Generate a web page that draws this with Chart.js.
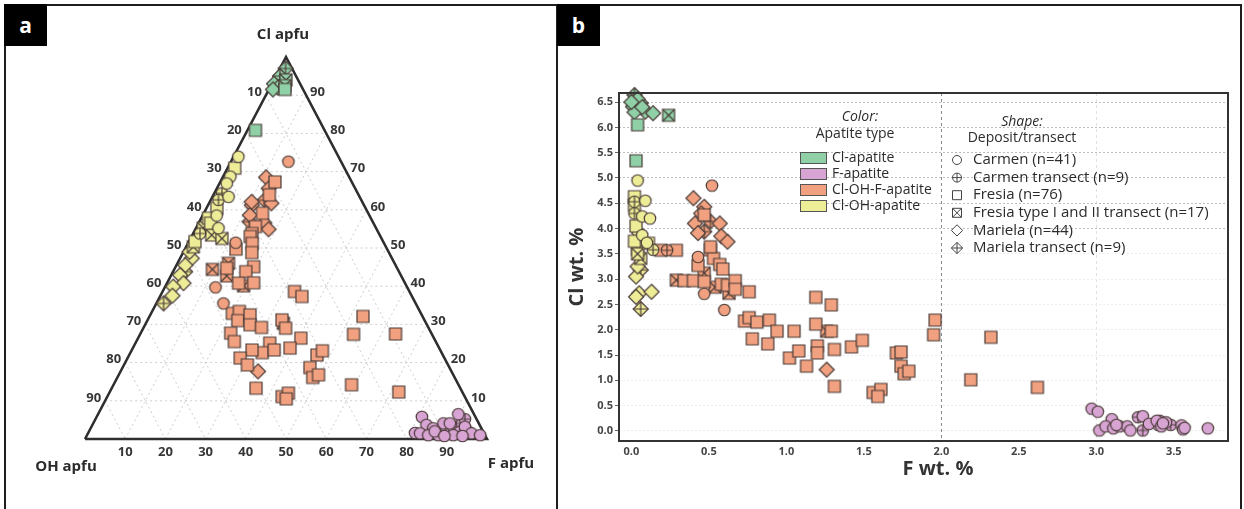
<!DOCTYPE html>
<html>
<head>
<meta charset="utf-8">
<script src="https://cdn.jsdelivr.net/npm/chart.js@4.4.1/dist/chart.umd.min.js"></script>
<style>
  html, body { margin: 0; padding: 0; background: #fff; }
  #wrap { position: relative; width: 1244px; height: 509px; overflow: hidden; font-family: 'Open Sans', sans-serif; }
  .frame { position: absolute; left: 4px; top: 4px; width: 1234px; height: 530px; border: 2px solid #1e1e1e; }
  .divider { position: absolute; left: 556px; top: 4px; width: 2px; height: 509px; background: #1e1e1e; }
  .tag { position: absolute; top: 4px; width: 43px; height: 42px; background: #000; color: #fff;
         font: bold 21px 'Open Sans', sans-serif; display: flex; align-items: center; justify-content: center; }
  canvas { position: absolute; top: 0; }
</style>
</head>
<body>
<div id="wrap">
  <div class="frame"></div>
  <div class="divider"></div>
  <div class="tag" style="left:4px">a</div>
  <div class="tag" style="left:557px">b</div>
  <canvas id="ternary" width="557" height="509" style="left:0"></canvas>
  <canvas id="scatter" width="687" height="509" style="left:557px"></canvas>
</div>
<script>
/* ---- categories / ticks ---- */
const apatiteTypes = ['Cl-apatite', 'F-apatite', 'Cl-OH-F-apatite', 'Cl-OH-apatite'];
const deposits = ['Carmen (n=41)', 'Carmen transect (n=9)', 'Fresia (n=76)',
                  'Fresia type I and II transect (n=17)', 'Mariela (n=44)', 'Mariela transect (n=9)'];
const ternaryTicks = [10, 20, 30, 40, 50, 60, 70, 80, 90];
const fTicks  = [0, 0.5, 1, 1.5, 2, 2.5, 3, 3.5];
const clTicks = [0, 0.5, 1, 1.5, 2, 2.5, 3, 3.5, 4, 4.5, 5, 5.5, 6, 6.5];

/* ---- panel b: [F wt.%, Cl wt.%] ---- */
const wtClApFresia     = [[0.04,6.05],[0.03,5.34]];
const wtClApFresiaTr   = [[0.24,6.24]];
const wtClApMariela    = [[0.01,6.41],[0.04,6.56],[0.09,6.31],[0.14,6.28],[0.02,6.30],[0.00,6.50],[0.07,6.40]];
const wtClApMarielaTr  = [[0.02,6.64],[0.06,6.48]];

const wtFApCarmen      = [[2.97,0.44],[3.01,0.38],[3.10,0.23],[3.02,0.01],[3.06,0.09],[3.11,0.05],[3.15,0.09],[3.20,0.09],
                          [3.22,0.01],[3.30,0.29],[3.34,0.14],[3.39,0.20],[3.42,0.09],[3.45,0.17],[3.55,0.11],[3.56,0.03],
                          [3.57,0.06],[3.72,0.05],[3.13,0.12],[3.43,0.15]];
const wtFApCarmenTr    = [[3.27,0.27],[3.30,0.01],[3.40,0.12],[3.48,0.12],[3.41,0.20]];

const wtClOHFCarmen    = [[0.52,4.85],[0.43,3.44],[0.47,2.71],[0.60,2.39]];
const wtClOHFCarmenTr  = [[0.23,3.57]];
const wtClOHFFresia    = [[0.19,3.57],[0.29,3.57],[0.51,3.58],[0.53,3.41],[0.57,3.29],[0.59,3.20],[0.43,3.27],[0.34,2.97],
                          [0.40,2.97],[0.47,2.95],[0.58,2.90],[0.62,2.88],[0.67,2.97],[0.67,2.80],[0.76,2.75],[0.51,3.64],
                          [0.47,4.27],[0.73,2.17],[0.76,2.24],[0.81,2.15],[0.89,2.19],[0.94,1.97],[0.78,1.82],[0.88,1.72],
                          [1.05,1.97],[1.19,2.64],[1.29,2.49],[1.19,2.11],[1.29,1.97],[1.20,1.68],[1.20,1.54],[1.31,1.61],
                          [1.02,1.44],[1.08,1.58],[1.13,1.28],[1.31,0.88],[1.42,1.66],[1.49,1.79],[1.56,0.76],[1.61,0.82],
                          [1.59,0.68],[1.71,1.54],[1.74,1.56],[1.74,1.28],[1.76,1.13],[1.79,1.18],[1.96,2.19],[1.95,1.90],
                          [2.32,1.85],[2.19,1.01],[2.62,0.86]];
const wtClOHFFresiaTr  = [[0.47,3.12],[0.29,2.98],[0.54,2.84],[0.63,2.72],[1.26,1.97]];
const wtClOHFMariela   = [[0.40,4.60],[0.47,4.43],[0.41,4.10],[0.57,4.10],[0.43,3.91],[0.58,3.85],[0.62,3.74],[1.26,1.21],[0.45,4.30]];
const wtClOHFMarielaTr = [[0.51,4.14],[0.47,3.94]];

const wtClOHCarmen     = [[0.04,4.95],[0.09,4.55],[0.07,4.24],[0.12,4.20],[0.07,3.87],[0.10,3.72]];
const wtClOHCarmenTr   = [[0.02,4.53],[0.02,4.30],[0.14,3.58]];
const wtClOHFresia     = [[0.02,4.63],[0.02,4.47],[0.11,3.71],[0.03,4.05],[0.02,3.75]];
const wtClOHFresiaTr   = [[0.04,3.59],[0.06,3.41],[0.04,3.50]];
const wtClOHMariela    = [[0.05,3.91],[0.03,3.05],[0.05,2.72],[0.13,2.75],[0.03,2.65],[0.04,3.25]];
const wtClOHMarielaTr  = [[0.06,3.18],[0.06,2.41]];

/* ---- panel a: [Cl %, F %] of apfu (OH = rest) ---- */
const apClApFresia     = [[80.8,2.0],[91.5,4.0]];
const apClApFresiaTr   = [[94,3],[92.5,3.5]];
const apClApMariela    = [[93,0.5],[92,2],[91.5,1]];
const apClApMarielaTr  = [[97,1.4],[95,1]];

const apFApCarmen      = [[5.8,80.9],[1.6,81.3],[6.5,89.6],[3.7,83.1],[2.8,85.2],[4.1,87.1],[1.5,82.6],[1.0,84.9],[1.0,87.4],
                          [4.1,88.7],[1.0,91.1],[3.2,92.9],[1.5,95.4],[1.0,97.8],[2.0,86.0],[0.8,89.0],[0.8,93.5]];
const apFApCarmenTr    = [[2.8,88.2],[3.2,90.0],[4.1,91.7],[1.9,92.3],[1.9,94.4],[5.2,91.9]];

const apClOHFCarmen    = [[72.6,14.3],[51.4,11.8],[39.7,12.6],[35.5,16.7]];
const apClOHFFresia    = [[67.3,13.6],[63.9,13.9],[59.1,14.6],[55.6,14.6],[53.8,14.6],[53.0,14.6],[51.2,16.0],[49.7,12.7],
                          [48.8,17.1],[44.7,12.9],[45.1,19.4],[43.8,18.1],[40.9,21.5],[40.8,17.8],[38.6,32.8],[37.3,35.3],
                          [32.9,20.2],[33.4,21.7],[31.0,22.5],[32.5,24.8],[29.9,26.1],[29.2,29.3],[27.7,22.4],[25.5,24.4],
                          [31.2,33.4],[29.0,35.4],[25.1,33.4],[22.6,32.8],[23.3,35.4],[23.3,29.9],[21.2,28.0],[19.4,30.7],
                          [13.3,35.9],[11.1,43.5],[12.0,44.6],[10.5,44.8],[26.4,40.5],[23.8,39.1],[22.0,46.7],[23.1,47.5],
                          [18.7,46.6],[16.1,48.6],[16.8,49.7],[32.1,53.1],[27.4,53.1],[27.5,63.5],[14.2,59.2],[12.3,71.9]];
const apClOHFFresiaTr  = [[46.0,12.7],[44.4,9.5],[42.7,13.9],[40.1,19.4],[30.3,34.2]];
const apClOHFMariela   = [[68.5,10.8],[65.6,12.9],[61.7,15.5],[61.2,10.9],[58.6,11.7],[56.6,16.3],[54.9,18.2],[17.7,34.2],[62.1,10.4]];
const apClOHFMarielaTr = [[62.5,13.4],[56.9,12.5]];

const apClOHCarmen     = [[73.9,1.2],[68.7,1.8],[66.9,1.8],[63.4,4.0],[55.2,5.6],[58.5,3.5]];
const apClOHCarmenTr   = [[64.3,1.9],[62.6,1.9],[53.8,1.7]];
const apClOHFresia     = [[70.9,1.8],[60.4,2.6],[57.8,1.8],[51.7,1.5],[56.5,3.0]];
const apClOHFresiaTr   = [[55.2,1.8],[53.4,4.8],[52.5,7.8],[50.3,1.8]];
const apClOHMariela    = [[47.3,2.9],[45.5,2.2],[42.9,2.2],[40.8,4.1],[39.9,2.0],[37.5,3.0],[49.0,1.5]];
const apClOHMarielaTr  = [[43.8,3.0],[35.5,1.8]];

/* [apatite type, deposit, points] */
const wtSeries = [
  [3,0,wtClOHCarmen],[3,1,wtClOHCarmenTr],[3,2,wtClOHFresia],[3,3,wtClOHFresiaTr],[3,4,wtClOHMariela],[3,5,wtClOHMarielaTr],
  [2,0,wtClOHFCarmen],[2,1,wtClOHFCarmenTr],[2,2,wtClOHFFresia],[2,3,wtClOHFFresiaTr],[2,4,wtClOHFMariela],[2,5,wtClOHFMarielaTr],
  [1,0,wtFApCarmen],[1,1,wtFApCarmenTr],
  [0,2,wtClApFresia],[0,3,wtClApFresiaTr],[0,4,wtClApMariela],[0,5,wtClApMarielaTr]
];
const apSeries = [
  [3,0,apClOHCarmen],[3,1,apClOHCarmenTr],[3,2,apClOHFresia],[3,3,apClOHFresiaTr],[3,4,apClOHMariela],[3,5,apClOHMarielaTr],
  [2,0,apClOHFCarmen],[2,2,apClOHFFresia],[2,3,apClOHFFresiaTr],[2,4,apClOHFMariela],[2,5,apClOHFMarielaTr],
  [1,0,apFApCarmen],[1,1,apFApCarmenTr],
  [0,2,apClApFresia],[0,3,apClApFresiaTr],[0,4,apClApMariela],[0,5,apClApMarielaTr]
];

/* ---- styling ---- */
const typeColors = ['#8fd0a7', '#d8a4d4', '#f1a17f', '#eded98'];
const shapeKinds = ['circle', 'circlePlus', 'square', 'squareX', 'diamond', 'diamondPlus'];
const edge = '#4a3b37';
const ink  = '#2b2b2b';
Chart.defaults.font.family = "'Open Sans', sans-serif";

function drawShape(g, kind, s, fill, stroke, lw){
  const r = s/2, d = r*1.25;
  g.fillStyle = fill; g.strokeStyle = stroke; g.lineWidth = lw;
  g.beginPath();
  if(kind.startsWith('circle')) g.arc(0,0,r,0,Math.PI*2);
  else if(kind.startsWith('square')) g.rect(-r,-r,s,s);
  else { g.moveTo(0,-d); g.lineTo(d,0); g.lineTo(0,d); g.lineTo(-d,0); g.closePath(); }
  g.fill(); g.stroke();
  g.beginPath();
  if(kind==='circlePlus'){ g.moveTo(-r,0); g.lineTo(r,0); g.moveTo(0,-r); g.lineTo(0,r); }
  if(kind==='squareX'){ g.moveTo(-r,-r); g.lineTo(r,r); g.moveTo(r,-r); g.lineTo(-r,r); }
  if(kind==='diamondPlus'){ g.moveTo(-d,0); g.lineTo(d,0); g.moveTo(0,-d); g.lineTo(0,d); }
  g.stroke();
}

const markerCache = {};
function marker(t, k){
  const key = t+'_'+k;
  if(markerCache[key]) return markerCache[key];
  const kind = shapeKinds[k];
  const s = kind.startsWith('circle') ? 11.5 : 12;
  const n = 22;
  const c = document.createElement('canvas'); c.width = n; c.height = n;
  const g = c.getContext('2d'); g.translate(n/2, n/2);
  drawShape(g, kind, s, typeColors[t], edge, 1.2);
  return markerCache[key] = c;
}

/* ===================== panel a : ternary ===================== */
const tern = (cl, f) => ({x: (f + cl/2)/100, y: cl/100});

const gridSets = [];
ternaryTicks.forEach(v=>{
  const lines = [
    [tern(v,0), tern(v,100-v)],          // Cl const
    [tern(0,v), tern(100-v,v)],          // F const
    [tern(100-v,0), tern(0,100-v)]       // OH const
  ];
  lines.forEach(pts=>gridSets.push({
    data: pts, showLine: true, pointRadius: 0, borderColor: '#cdcdcd',
    borderWidth: 1, borderDash: [2,3], order: 10, clip: false
  }));
});

const outlineSet = {
  data: [tern(0,0), tern(100,0), tern(0,100), tern(0,0)],
  showLine: true, pointRadius: 0, borderColor: '#2e2e2e', borderWidth: 2.6, order: 5, clip: false
};

const ternaryText = {
  id: 'ternaryText',
  afterDraw(chart){
    const {ctx, scales:{x, y}} = chart;
    const at = (cl, f) => { const p = tern(cl, f); return [x.getPixelForValue(p.x), y.getPixelForValue(p.y)]; };
    ctx.save();
    ctx.fillStyle = '#363636';
    ctx.font = "bold 13px 'Open Sans'";
    ctx.textBaseline = 'middle';
    ternaryTicks.forEach(v=>{
      let [px, py] = at(100-v, 0);
      ctx.textAlign = 'right'; ctx.fillText(String(v), px-4, py-3);
      [px, py] = at(v, 100-v);
      ctx.textAlign = 'left'; ctx.fillText(String(v), px+4, py-3);
      [px, py] = at(0, v);
      ctx.textAlign = 'center'; ctx.fillText(String(v), px, py+13);
    });
    ctx.font = "bold 15px 'Open Sans'";
    ctx.fillStyle = ink;
    ctx.textAlign = 'center';
    let [px, py] = at(100, 0); ctx.fillText('Cl apfu', px-3, py-22);
    [px, py] = at(0, 0);       ctx.fillText('OH apfu', px-19, py+28);
    [px, py] = at(0, 100);     ctx.fillText('F apfu', px+24, py+25);
    ctx.restore();
  }
};

new Chart(document.getElementById('ternary'), {
  type: 'scatter',
  data: {
    datasets: [
      ...apSeries.map(([t, k, pts]) => ({
        label: apatiteTypes[t]+' / '+deposits[k],
        data: pts.map(([cl, f]) => tern(cl, f)),
        pointStyle: marker(t, k), order: 0, clip: false
      })),
      outlineSet,
      ...gridSets
    ]
  },
  options: {
    responsive: false, animation: false, events: [],
    layout: { padding: { left: 85, right: 70, top: 57, bottom: 70 } },
    scales: {
      x: { type: 'linear', min: 0, max: 1, display: false },
      y: { type: 'linear', min: 0, max: 1, display: false }
    },
    plugins: { legend: { display: false }, tooltip: { enabled: false } }
  },
  plugins: [ternaryText]
});

/* ===================== panel b : F vs Cl wt.% ===================== */
const OX = 557;   // page x of this canvas

const plotFrame = {
  id: 'plotFrame',
  afterDraw(chart){
    const {ctx, chartArea: a} = chart;
    ctx.save();
    ctx.strokeStyle = '#333'; ctx.lineWidth = 2;
    ctx.strokeRect(a.left, a.top, a.right - a.left, a.bottom - a.top);
    // x axis title, set a little right of centre as in the figure
    ctx.fillStyle = '#333'; ctx.font = "bold 20px 'Open Sans'";
    ctx.textAlign = 'center'; ctx.textBaseline = 'middle';
    ctx.fillText('F wt. %', 938-OX, 469);
    ctx.restore();
  }
};

const keyBox = {
  id: 'keyBox',
  afterDraw(chart){
    const ctx = chart.ctx;
    ctx.save();
    ctx.fillStyle = ink; ctx.textBaseline = 'middle';
    // colour key
    ctx.textAlign = 'center';
    ctx.font = "italic 14px 'Open Sans'"; ctx.fillText('Color:', 860-OX, 117);
    ctx.font = "14px 'Open Sans'";        ctx.fillText('Apatite type', 855-OX, 134);
    apatiteTypes.forEach((name, i)=>{
      const yy = 158 + i*16;
      ctx.fillStyle = typeColors[i]; ctx.fillRect(800-OX, yy-5.5, 26, 11);
      ctx.strokeStyle = '#555'; ctx.lineWidth = 1; ctx.strokeRect(800-OX+0.5, yy-5.5, 26, 11);
      ctx.fillStyle = ink; ctx.textAlign = 'left'; ctx.font = "14px 'Open Sans'";
      ctx.fillText(name, 832-OX, yy);
    });
    // shape key
    ctx.textAlign = 'center';
    ctx.font = "italic 14px 'Open Sans'"; ctx.fillText('Shape:', 1022-OX, 122);
    ctx.font = "14px 'Open Sans'";        ctx.fillText('Deposit/transect', 1022-OX, 138);
    deposits.forEach((name, i)=>{
      const yy = 160 + i*17.6;
      ctx.save(); ctx.translate(957-OX, yy);
      drawShape(ctx, shapeKinds[i], 9, '#fff', '#444', 1);
      ctx.restore();
      ctx.fillStyle = ink; ctx.textAlign = 'left'; ctx.font = "15px 'Open Sans'";
      ctx.fillText(name, 973-OX, yy);
    });
    ctx.restore();
  }
};

new Chart(document.getElementById('scatter'), {
  type: 'scatter',
  data: {
    datasets: wtSeries.map(([t, k, pts]) => ({
      label: apatiteTypes[t]+' / '+deposits[k],
      data: pts.map(([f, cl]) => ({x: f, y: cl})),
      pointStyle: marker(t, k), clip: false
    }))
  },
  options: {
    responsive: false, animation: false, events: [],
    layout: { padding: { left: 0, right: 16, top: 93, bottom: 0 } },
    scales: {
      x: {
        type: 'linear', min: -0.08, max: 3.85,
        afterBuildTicks: s => { s.ticks = fTicks.map(v => ({value: v})); },
        afterFit: s => { s.height = 68; },
        ticks: { callback: v => Number(v).toFixed(1), font: {size: 11, weight: 'bold'}, color: '#444',
                 padding: 4, maxRotation: 0, autoSkip: false },
        grid: { color: c => c.tick && c.tick.value === 2 ? '#8a8a8a' : (c.tick && c.tick.value === 3 ? '#e0e0e0' : 'rgba(0,0,0,0)'),
                drawTicks: false, lineWidth: 1 },
        border: { display: false, dash: [3,3] },
        title: { display: false }
      },
      y: {
        type: 'linear', min: -0.2, max: 6.68,
        afterBuildTicks: s => { s.ticks = clTicks.map(v => ({value: v})); },
        afterFit: s => { s.width = 62; },
        ticks: { callback: v => Number(v).toFixed(1), font: {size: 11, weight: 'bold'}, color: '#444',
                 padding: 2, autoSkip: false },
        grid: { color: c => c.tick && c.tick.value >= 4 ? '#bdbdbd' : '#ededed', tickLength: 4, tickColor: '#666', lineWidth: 1 },
        border: { display: false, dash: [2,2] },
        title: { display: true, text: 'Cl wt. %', font: {size: 20, weight: 'bold'}, color: '#333',
                 padding: {top: 8, bottom: 0} }
      }
    },
    plugins: { legend: { display: false }, tooltip: { enabled: false } }
  },
  plugins: [plotFrame, keyBox]
});
</script>
</body>
</html>
